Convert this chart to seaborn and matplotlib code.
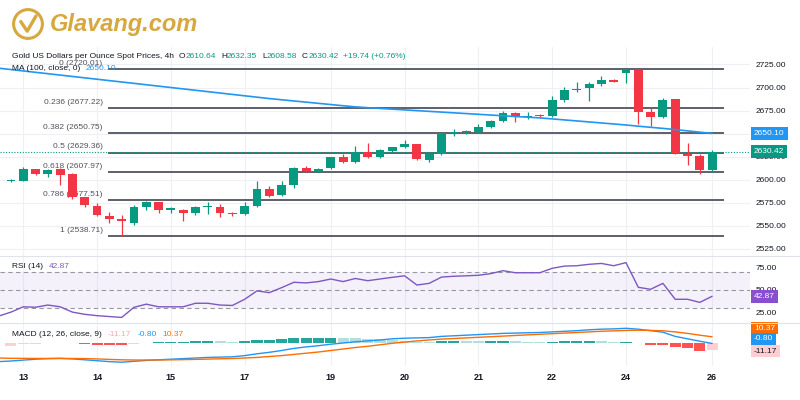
import numpy as np
import pandas as pd
import seaborn as sns
import matplotlib.pyplot as plt
from matplotlib.patches import Circle
from matplotlib.lines import Line2D

# 4h candles, 13th -> 26th (weekend gaps removed)
opens = [2598.5, 2599.0, 2611.0, 2606.5, 2611.0, 2606.0, 2581.0, 2571.5, 2560.5, 2557.5,
         2553.0, 2570.5, 2575.5, 2567.5, 2567.0, 2563.5, 2570.0, 2570.5, 2564.0, 2562.5,
         2571.5, 2589.5, 2583.5, 2594.0, 2612.5, 2609.5, 2612.5, 2624.0, 2619.5, 2629.5,
         2625.0, 2631.0, 2635.0, 2638.5, 2621.5, 2628.0, 2651.0, 2651.5, 2652.0, 2657.0,
         2664.0, 2672.0, 2668.5, 2670.5, 2669.5, 2686.0, 2697.0, 2699.5, 2704.0, 2708.5,
         2715.5, 2719.5, 2673.0, 2668.5, 2687.0, 2628.0, 2625.5, 2610.64]
highs = [2600.5, 2613.5, 2612.0, 2611.0, 2613.0, 2607.0, 2581.5, 2575.0, 2565.0, 2561.0,
         2572.0, 2576.5, 2576.0, 2570.5, 2568.0, 2571.0, 2575.5, 2573.0, 2564.5, 2576.0,
         2598.0, 2593.0, 2598.0, 2614.0, 2615.0, 2613.0, 2625.0, 2627.5, 2637.0, 2639.5,
         2633.0, 2635.5, 2643.0, 2639.0, 2628.5, 2652.0, 2655.0, 2654.0, 2660.5, 2665.0,
         2674.0, 2673.0, 2673.0, 2671.0, 2691.0, 2701.0, 2706.5, 2705.5, 2712.0, 2709.0,
         2720.01, 2720.0, 2677.5, 2688.5, 2688.0, 2639.5, 2628.0, 2632.35]
lows = [2597.0, 2598.0, 2604.5, 2602.5, 2594.0, 2578.5, 2570.5, 2560.0, 2552.5, 2538.71,
        2550.5, 2567.5, 2564.0, 2564.0, 2555.5, 2561.0, 2562.5, 2559.5, 2560.5, 2562.0,
        2570.0, 2581.0, 2582.0, 2590.5, 2608.5, 2608.5, 2611.5, 2618.0, 2618.0, 2623.0,
        2623.5, 2630.5, 2634.5, 2621.0, 2619.5, 2627.0, 2647.5, 2649.5, 2651.0, 2655.5,
        2663.0, 2662.0, 2666.0, 2668.5, 2668.5, 2684.0, 2695.0, 2685.0, 2702.0, 2706.0,
        2705.0, 2660.0, 2658.5, 2667.0, 2627.5, 2616.0, 2606.0, 2608.58]
closes = [2599.0, 2611.5, 2606.5, 2610.5, 2605.5, 2581.0, 2572.0, 2561.5, 2557.0, 2555.0,
          2570.5, 2575.5, 2567.0, 2568.0, 2564.0, 2570.5, 2571.0, 2564.0, 2562.5, 2571.5,
          2590.0, 2582.5, 2594.0, 2613.0, 2609.5, 2612.0, 2624.0, 2619.0, 2629.5, 2624.5,
          2632.0, 2635.0, 2638.5, 2622.0, 2628.0, 2651.0, 2651.5, 2652.5, 2657.0, 2664.0,
          2672.0, 2668.5, 2669.5, 2669.5, 2686.5, 2697.0, 2698.5, 2704.0, 2708.5, 2706.5,
          2719.5, 2673.0, 2668.5, 2686.5, 2629.0, 2625.5, 2610.5, 2630.42]

# indicators start one bar earlier (bar -1 sits just off the left edge)
ma100 = [2721.0, 2719.5, 2718.0, 2716.5, 2715.0, 2713.5, 2712.0, 2710.5, 2709.0, 2707.5,
         2706.0, 2704.5, 2703.0, 2701.5, 2700.0, 2698.5, 2697.0, 2695.5, 2694.0, 2692.5,
         2691.0, 2689.5, 2688.0, 2686.7, 2685.4, 2684.1, 2682.8, 2681.5, 2680.2, 2679.0,
         2678.1, 2677.3, 2676.5, 2675.7, 2674.9, 2674.1, 2673.3, 2672.5, 2671.7, 2670.9,
         2670.1, 2669.3, 2668.5, 2667.8, 2667.0, 2665.9, 2664.8, 2663.7, 2662.6, 2661.5,
         2660.4, 2659.3, 2658.0, 2656.8, 2655.6, 2654.3, 2652.9, 2651.5, 2650.1]
rsi14 = [20.5, 25.0, 31.0, 30.5, 33.0, 31.0, 25.0, 22.5, 21.0, 20.0,
         19.0, 30.4, 34.0, 31.0, 31.0, 31.0, 35.0, 35.0, 33.0, 32.5,
         39.5, 49.0, 47.0, 52.6, 58.7, 58.0, 59.5, 62.4, 59.5, 63.0,
         60.5, 62.4, 64.3, 66.0, 55.6, 57.5, 64.6, 65.5, 66.0, 66.6,
         68.5, 71.8, 69.5, 69.5, 69.5, 74.5, 77.0, 77.4, 79.0, 80.0,
         77.4, 80.9, 53.0, 50.8, 57.5, 39.5, 39.5, 36.0, 42.87]
macd_line = [-31.0, -30.0, -28.5, -27.0, -26.0, -25.5, -26.5, -28.0, -29.5, -31.0,
             -32.0, -30.5, -29.0, -28.0, -27.0, -26.0, -25.0, -24.0, -23.5, -23.0,
             -21.0, -18.0, -15.5, -12.5, -9.0, -6.5, -4.5, -2.0, 0.0, 2.0,
             3.5, 5.0, 7.0, 8.0, 8.5, 9.0, 11.0, 12.0, 13.0, 14.0,
             15.0, 16.0, 16.5, 17.0, 17.5, 18.5, 19.5, 20.5, 22.0, 23.0,
             23.5, 24.5, 23.0, 20.5, 18.0, 11.0, 7.0, 3.0, -0.80]
macd_signal = [-25.0, -25.5, -25.6, -25.7, -25.8, -25.8, -25.8, -26.0, -26.5, -27.3,
               -28.0, -28.3, -28.4, -28.3, -28.0, -27.7, -27.3, -26.8, -26.3, -25.8,
               -25.0, -24.0, -22.5, -21.0, -19.0, -17.0, -15.0, -12.5, -10.0, -7.5,
               -5.5, -3.0, -0.5, 1.5, 3.5, 5.0, 6.5, 7.5, 8.5, 9.5,
               10.5, 11.5, 12.5, 13.5, 14.5, 15.5, 16.5, 17.5, 18.5, 19.5,
               20.2, 21.0, 21.3, 21.0, 20.3, 18.5, 16.0, 13.0, 10.37]
macd_hist = [-5.0, -2.0, -1.0, 0.3, 0.6, 0.4, -1.5, -3.0, -3.5, -4.0,
             -2.0, 0.5, 1.0, 1.5, 2.0, 2.5, 3.0, 2.5, 2.0, 3.5,
             4.5, 5.5, 6.5, 7.5, 8.0, 8.5, 9.0, 8.5, 7.5, 7.0,
             6.0, 5.0, 3.5, 2.0, 1.5, 3.0, 3.5, 3.0, 2.5, 3.0,
             3.5, 2.5, 2.0, 1.5, 2.0, 2.5, 3.0, 3.5, 2.5, 2.0,
             2.3, -0.5, -2.5, -3.0, -7.0, -9.0, -13.0, -11.17]

fib_ratios = ["0", "0.236", "0.382", "0.5", "0.618", "0.786", "1"]
fib_levels = [2720.01, 2677.22, 2650.75, 2629.36, 2607.97, 2577.51, 2538.71]

day_labels = ["13", "14", "15", "17", "19", "20", "21", "22", "24", "26"]
day_first_bar = [1, 7, 13, 19, 26, 32, 38, 44, 50, 57]

price_ticks = [2525, 2550, 2575, 2600, 2625, 2650, 2675, 2700, 2725]
rsi_ticks = [25, 50, 75]

last_o, last_h, last_l, last_c = 2610.64, 2632.35, 2608.58, 2630.42
last_chg, last_pct = 19.74, 0.76

GREEN = "#089981"
RED = "#f23645"
BLUE = "#2196f3"
ORANGE = "#ff6d00"
PURPLE = "#7e57c2"
INK = "#131722"
FIB = "#5d606b"
GRID = "#eef0f4"

bars = pd.DataFrame({"open": opens, "high": highs, "low": lows, "close": closes})
bars["bar"] = np.arange(len(bars))
ind = pd.DataFrame({"bar": np.arange(-1, len(opens)), "ma": ma100, "rsi": rsi14,
                    "macd": macd_line, "signal": macd_signal})

sns.set_theme(style="white")
plt.rcParams["font.family"] = ["Liberation Sans", "DejaVu Sans"]

W, H = 800, 400
fig = plt.figure(figsize=(8, 4), dpi=100)


def box(l, t, r, b):
    return [l / W, 1 - b / H, (r - l) / W, (b - t) / H]


ax_p = fig.add_axes(box(0, 47, 750, 256))
ax_r = fig.add_axes(box(0, 256, 750, 323), sharex=ax_p)
ax_m = fig.add_axes(box(0, 323, 750, 366), sharex=ax_p)

# --- price panel ---
up = bars["close"] >= bars["open"]
cols = np.where(up, GREEN, RED)
ax_p.vlines(bars["bar"], bars["low"], bars["high"], colors=cols, lw=0.9, zorder=3)
body = (bars["close"] - bars["open"]).abs().clip(lower=1.1)
ax_p.bar(bars["bar"], body, bottom=bars[["open", "close"]].min(axis=1),
         width=0.72, color=cols, linewidth=0, zorder=4)

sns.lineplot(data=ind, x="bar", y="ma", ax=ax_p, color=BLUE, lw=1.2, zorder=5)

ax_p.hlines(fib_levels, 7.9, 58.0, color=FIB, lw=1.4, zorder=2)
for r, lv in zip(fib_ratios, fib_levels):
    ax_p.annotate(f"{r} ({lv:.2f})", xy=(7.9, lv), xytext=(-4, 1.5),
                  textcoords="offset points", ha="right", va="bottom",
                  fontsize=6, color="#50535e")

ax_p.plot([0, 1.0], [last_c, last_c], transform=ax_p.get_yaxis_transform(),
          ls=(0, (1, 1.5)), color=GREEN, lw=0.8, clip_on=False, zorder=3)

ax_p.set_ylim(2517, 2744)
ax_p.set_yticks(price_ticks)
# the 2650 label sits fully under the MA tag, as on the original
ax_p.set_yticklabels(["" if v == 2650 else f"{v:.2f}" for v in price_ticks])

# --- RSI panel ---
ax_r.axhspan(30, 70, color=PURPLE, alpha=0.08, lw=0)
for lv in (70, 50, 30):
    ax_r.axhline(lv, color="#9598a1", ls=(0, (4, 3)), lw=0.8)
sns.lineplot(data=ind, x="bar", y="rsi", ax=ax_r, color=PURPLE, lw=1.0)
ax_r.set_ylim(12.7, 88.4)
ax_r.set_yticks(rsi_ticks)
ax_r.set_yticklabels([f"{v:.2f}" for v in rsi_ticks])

# --- MACD panel ---
hist_cols = []
for i, h in enumerate(macd_hist):
    prev = macd_hist[i - 1] if i else h - 1
    if h >= 0:
        hist_cols.append("#26a69a" if h >= prev else "#b2dfdb")
    else:
        hist_cols.append("#ff5252" if h <= prev else "#ffcdd2")
ax_m.bar(np.arange(len(macd_hist)), macd_hist, width=0.9, color=hist_cols, linewidth=0)
sns.lineplot(data=ind, x="bar", y="macd", ax=ax_m, color=BLUE, lw=1.0)
sns.lineplot(data=ind, x="bar", y="signal", ax=ax_m, color=ORANGE, lw=1.0)
ax_m.set_ylim(-38.3, 33.3)
ax_m.set_yticks([])

# --- shared styling ---
for ax in (ax_p, ax_r, ax_m):
    ax.set_xlim(-0.89, 60.08)
    ax.set_xlabel("")
    ax.set_ylabel("")
    for s in ax.spines.values():
        s.set_visible(False)
    ax.yaxis.tick_right()
    ax.tick_params(axis="y", length=0, pad=4, labelsize=6, labelcolor=INK)
    ax.tick_params(axis="x", length=0)
    ax.set_xticks(day_first_bar)
    ax.grid(True, axis="x", color=GRID, lw=0.8)
    ax.set_axisbelow(True)
ax_p.grid(True, axis="y", color=GRID, lw=0.8)
ax_p.tick_params(labelbottom=False)
ax_r.tick_params(labelbottom=False)
ax_m.set_xticklabels(day_labels)
ax_m.tick_params(axis="x", pad=5, labelsize=6.5, labelcolor=INK)
for t in ax_m.get_xticklabels():
    t.set_fontweight("bold")

for yy in (256, 323):
    fig.add_artist(Line2D([0, 1], [1 - yy / H] * 2, color="#e0e3eb", lw=0.8))


# value tags on the right scale
def tag(ax, y, s, fc, tc="white"):
    ax.text(1.0 + 4 / 750, y, s, transform=ax.get_yaxis_transform(), ha="left",
            va="center", fontsize=6, color=tc, zorder=10, clip_on=False,
            bbox=dict(boxstyle="square,pad=0.35", fc=fc, ec="none"))


tag(ax_p, ma100[-1], f"{ma100[-1]:.2f}", BLUE)
tag(ax_p, last_c, f"{last_c:.2f}", GREEN)
tag(ax_r, rsi14[-1], f"{rsi14[-1]:.2f}", "#8a4fd0")
tag(ax_m, macd_signal[-1] + 14.6, f"{macd_signal[-1]:.2f}", ORANGE)
tag(ax_m, macd_line[-1] + 7.5, f"{macd_line[-1]:.2f}", BLUE)
tag(ax_m, macd_hist[-1] - 2.2, f"{macd_hist[-1]:.2f}", "#ffcdd2", INK)

# legend-style header lines
renderer = fig.canvas.get_renderer()


def chain(x, y, parts, size=6):
    for s, c, gap in parts:
        t = fig.text(x / W, 1 - y / H, s, color=c, fontsize=size, va="center", ha="left")
        x += t.get_window_extent(renderer).width + gap


chain(12, 57, [("Gold US Dollars per Ounce Spot Prices, 4h", INK, 5),
               ("O", INK, 0), (f"{last_o:.2f}", GREEN, 5),
               ("H", INK, 0), (f"{last_h:.2f}", GREEN, 5),
               ("L", INK, 0), (f"{last_l:.2f}", GREEN, 5),
               ("C", INK, 0), (f"{last_c:.2f}", GREEN, 5),
               (f"+{last_chg:.2f} (+{last_pct:.2f}%)", GREEN, 0)])
chain(12, 69, [("MA (100, close, 0)", INK, 5), (f"{ma100[-1]:.2f}", BLUE, 0)])
chain(12, 266, [("RSI (14)", INK, 6), (f"{rsi14[-1]:.2f}", PURPLE, 0)])
chain(12, 335, [("MACD (12, 26, close, 9)", INK, 6), (f"{macd_hist[-1]:.2f}", "#f7a8ae", 6),
                (f"{macd_line[-1]:.2f}", BLUE, 6), (f"{macd_signal[-1]:.2f}", ORANGE, 0)])

# logo
GOLD = "#d6a83e"
lax = fig.add_axes(box(12, 8, 44, 40))
lax.set_xlim(-1, 1)
lax.set_ylim(-1, 1)
lax.set_aspect("equal")
lax.axis("off")
lax.add_patch(Circle((0, 0), 0.9, fill=False, ec=GOLD, lw=2.2))
lax.plot([-0.45, -0.05, 0.5], [0.15, -0.45, 0.5], color=GOLD, lw=2.4,
         solid_capstyle="round")
fig.text(50 / W, 1 - 24 / H, "Glavang.com", fontsize=17, fontweight="bold",
         fontstyle="italic", color=GOLD, va="center", ha="left")

fig.savefig("out.png", dpi=100)
